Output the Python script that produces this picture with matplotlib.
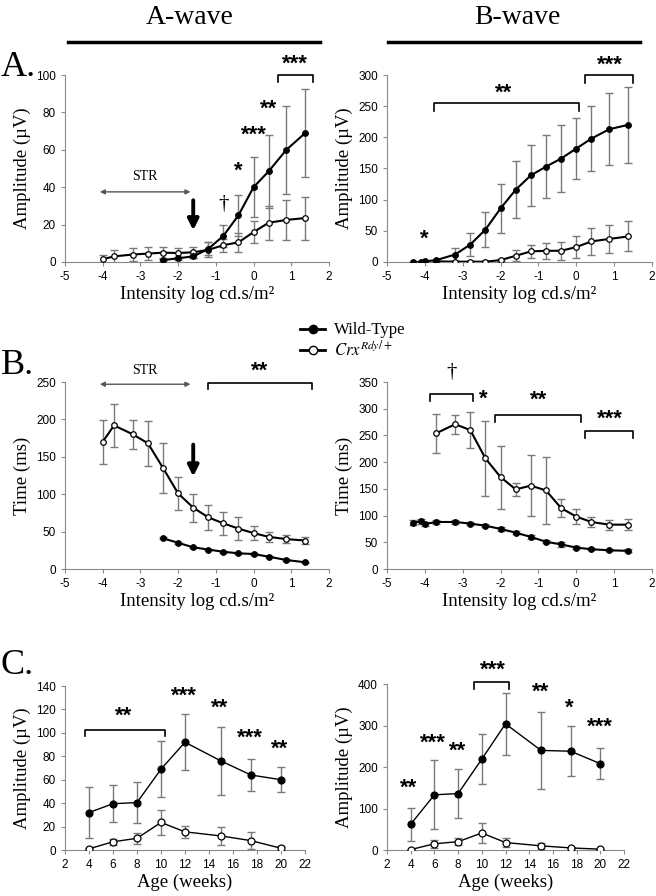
import numpy as np
import matplotlib.pyplot as plt
from matplotlib.lines import Line2D

plt.rcParams['font.family'] = ['Liberation Sans', 'DejaVu Sans']
plt.rcParams['axes.unicode_minus'] = False
plt.rcParams['mathtext.fontset'] = 'stix'

SERIF = ['Liberation Serif', 'DejaVu Serif']
W, H = 656, 896

# intensity steps (log cd.s/m2)
x_int = [-4, -3.7, -3.2, -2.8, -2.4, -2, -1.6, -1.2, -0.8, -0.4, 0, 0.4, 0.87, 1.37]
x_wt_b = [-4.3, -4.1, -4.0] + x_int[1:]

# A-wave amplitude
wt_aamp = [1, 2, 3, 7, 14, 25, 40, 48.5, 60, 69]
wt_aamp_err = [0.5, 0.8, 1, 3.5, 6, 11, 16, 19.5, 23.5, 23.5]
crx_aamp = [1.5, 3, 4, 4.5, 5, 4.8, 5.2, 6.5, 9, 10.5, 16, 21, 22.5, 23.5]
crx_aamp_err = [2.5, 3.5, 3.5, 3.5, 3, 2.5, 3, 4, 3.5, 5, 6, 9, 10.5, 11.5]

# B-wave amplitude
wt_bamp = [0, 0, 1, 3, 12, 28, 52, 86, 116, 139, 153, 166, 182, 198, 213, 220]
wt_bamp_err = [0, 0, 0, 1, 10, 19, 28, 39, 46, 49, 51, 53, 49, 52, 58, 61]
crx_bamp = [1, 0.5, 0.5, 0.5, 3, 10, 17, 18, 18, 24, 33, 37, 41]
crx_bamp_err = [1, 1, 1, 1, 2, 9, 11, 13, 14, 18, 21, 23, 24]

# A-wave implicit time
wt_atime = [41, 35, 29, 26, 23, 21, 20, 16.5, 12, 9]
wt_atime_err = [1.5, 1.5, 1, 1, 1, 1, 1, 1, 1, 1]
crx_atime = [170, 192, 180, 168, 135, 101, 82, 69, 61, 54, 48, 43, 40, 38]
crx_atime_err = [29.5, 28.5, 19, 30, 33, 22, 18.5, 17, 15.5, 15, 9.5, 7, 5.5, 5]

# B-wave implicit time
wt_btime = [87, 89, 84, 88, 88, 85, 81, 75, 68, 60, 51, 46, 40, 37, 35, 34]
wt_btime_err = [5, 5, 4, 3, 3, 3, 3, 3, 3, 3, 3, 4, 3, 2, 2, 3]
crx_btime = [254, 271, 260, 207, 172, 149, 156, 147, 114, 98, 88, 83, 83]
crx_btime_err = [36.5, 18, 33.5, 69.5, 59, 12, 57.5, 63, 17.5, 14.5, 9.5, 9.5, 10.5]

# amplitude vs age
ages = [4, 6, 8, 10, 12, 15, 17.5, 20]
wt_age_a = [32, 39.5, 40.5, 69, 92, 76, 64, 60]
wt_age_a_err = [22, 16, 17.5, 24, 24, 29, 14, 10.5]
crx_age_a = [1, 7, 10, 23.5, 15.5, 12, 8, 1.5]
crx_age_a_err = [1, 2.5, 4.5, 11, 5, 7.5, 7, 2]
wt_age_b = [62, 133, 136, 219, 304, 240, 238, 208]
wt_age_b_err = [40, 83, 58.5, 61, 75.5, 92, 60, 37.5]
crx_age_b = [1, 15, 20, 41, 18, 10, 5, 2]
crx_age_b_err = [1, 10, 8, 23, 10, 8, 3, 1]


def make_ax(px):
    l, t, r, b = px
    ax = fig.add_axes([l / W, 1 - b / H, (r - l) / W, (b - t) / H])
    for s in ['top', 'right']:
        ax.spines[s].set_visible(False)
    for s in ['left', 'bottom']:
        ax.spines[s].set_color('#8a8a8a')
    ax.tick_params(colors='#8a8a8a', labelcolor='black', labelsize=8.5, length=3)
    return ax


def series(ax, x, y, err, filled, lw=1.5, ms=4):
    ax.errorbar(x, y, yerr=err, fmt='none', ecolor='#7a7a7a', elinewidth=1,
                capsize=3, capthick=1, zorder=2)
    ax.plot(x, y, '-o', color='black', lw=lw, ms=ms, mec='black', mew=0.9,
            mfc='black' if filled else 'white', zorder=3)


def bracket(ax, x0, x1, y, h):
    ax.plot([x0, x0, x1, x1], [y - h, y, y, y - h], color='black', lw=1.2,
            clip_on=False)


def stars(ax, x, y, s, size=16):
    ax.text(x, y, s, ha='center', va='center', fontsize=size,
            fontweight='bold', clip_on=False)


def str_arrow(ax, x0, x1, y, ytxt):
    ax.annotate('', xy=(x0, y), xytext=(x1, y),
                arrowprops=dict(arrowstyle='<|-|>', color='#555555', lw=1,
                                mutation_scale=7))
    ax.text((x0 + x1) / 2, ytxt, 'STR', ha='center', va='center',
            fontsize=10, family=SERIF)


def down_arrow(ax, x, y0, y1):
    ax.annotate('', xy=(x, y1), xytext=(x, y0),
                arrowprops=dict(arrowstyle='-|>', color='black', lw=2.8,
                                mutation_scale=16))


def intensity_axes(ax, ymax, ystep, ylabel):
    ax.set_xlim(-5, 2)
    ax.set_xticks(range(-5, 3))
    ax.set_ylim(0, ymax)
    ax.set_yticks(np.arange(0, ymax + 1, ystep))
    ax.set_xlabel('Intensity log cd.s/m²', family=SERIF, fontsize=13.5,
                  labelpad=2)
    ax.set_ylabel(ylabel, family=SERIF, fontsize=13.5, labelpad=4)


def age_axes(ax, ymax, ystep):
    ax.set_xlim(2, 22)
    ax.set_xticks(range(2, 23, 2))
    ax.set_ylim(0, ymax)
    ax.set_yticks(np.arange(0, ymax + 1, ystep))
    ax.set_xlabel('Age (weeks)', family=SERIF, fontsize=13.5, labelpad=2)
    ax.set_ylabel('Amplitude (µV)', family=SERIF, fontsize=13.5, labelpad=4)


fig = plt.figure(figsize=(W / 100, H / 100), dpi=100)

# titles
for cx, x0, x1, txt in [(190, 68, 320, 'A-wave'), (517, 388, 640, 'B-wave')]:
    fig.text(cx / W, 1 - 17 / H, txt, ha='center', va='center',
             fontsize=20, family=SERIF)
    fig.add_artist(Line2D([x0 / W, x1 / W], [1 - 42 / H] * 2, color='black',
                          lw=2.5))
for y, lab in [(68, 'A.'), (366, 'B.'), (666, 'C.')]:
    fig.text(1 / W, 1 - y / H, lab, ha='left', va='center', fontsize=26,
             family=SERIF)

# A-wave amplitude
ax = make_ax((65, 75, 329, 262))
series(ax, x_int, crx_aamp, crx_aamp_err, False)
series(ax, x_int[4:], wt_aamp, wt_aamp_err, True)
intensity_axes(ax, 100, 20, 'Amplitude (µV)')
str_arrow(ax, -4.15, -1.6, 37.5, 45.5)
down_arrow(ax, -1.6, 34.5, 15.5)
ax.text(-0.8, 30.5, '†', ha='center', va='center', fontsize=15, family=SERIF)
stars(ax, -0.4, 48.5, '*')
stars(ax, 0, 68, '***')
stars(ax, 0.4, 81.5, '**')
bracket(ax, 0.66, 1.57, 100, 4)
stars(ax, 1.1, 106, '***')

# B-wave amplitude
ax = make_ax((387, 75, 652, 262))
series(ax, x_int[1:], crx_bamp, crx_bamp_err, False)
series(ax, x_wt_b, wt_bamp, wt_bamp_err, True)
intensity_axes(ax, 300, 50, 'Amplitude (µV)')
stars(ax, -4.02, 37, '*')
bracket(ax, -3.76, 0.08, 255, 13)
stars(ax, -1.93, 271, '**')
bracket(ax, 0.22, 1.5, 300, 13)
stars(ax, 0.88, 316, '***')

# A-wave implicit time
ax = make_ax((65, 382, 329, 569))
series(ax, x_int, crx_atime, crx_atime_err, False)
series(ax, x_int[4:], wt_atime, wt_atime_err, True)
intensity_axes(ax, 250, 50, 'Time (ms)')
str_arrow(ax, -4.15, -1.6, 247, 266)
down_arrow(ax, -1.6, 170, 120)
bracket(ax, -1.21, 1.55, 249, 9)
stars(ax, 0.17, 264, '**')

# B-wave implicit time
ax = make_ax((387, 382, 652, 569))
series(ax, x_int[1:], crx_btime, crx_btime_err, False)
series(ax, x_wt_b, wt_btime, wt_btime_err, True)
intensity_axes(ax, 350, 50, 'Time (ms)')
bracket(ax, -3.86, -2.72, 328, 14)
ax.text(-3.29, 368, '†', ha='center', va='center', fontsize=15, family=SERIF,
        clip_on=False)
stars(ax, -2.46, 318, '*')
bracket(ax, -2.15, 0.13, 289, 14)
stars(ax, -1.0, 315, '**')
bracket(ax, 0.22, 1.5, 258, 13)
stars(ax, 0.88, 281, '***')

# amplitude vs age, A-wave
ax = make_ax((65, 686, 305, 850))
series(ax, ages, crx_age_a, crx_age_a_err, False, lw=1, ms=5)
series(ax, ages, wt_age_a, wt_age_a_err, True, lw=1, ms=5)
age_axes(ax, 140, 20)
bracket(ax, 3.67, 10.3, 102.7, 5.5)
stars(ax, 6.9, 114.5, '**')
stars(ax, 11.9, 131, '***')
stars(ax, 14.9, 121, '**')
stars(ax, 17.4, 95, '***')
stars(ax, 19.9, 86, '**')

# amplitude vs age, B-wave
ax = make_ax((387, 684, 624, 850))
series(ax, ages, crx_age_b, crx_age_b_err, False, lw=1, ms=5)
series(ax, ages, wt_age_b, wt_age_b_err, True, lw=1, ms=5)
age_axes(ax, 400, 100)
stars(ax, 3.86, 148, '**')
stars(ax, 5.9, 258, '***')
stars(ax, 7.94, 237, '**')
bracket(ax, 9.38, 12.3, 405, 16)
stars(ax, 10.9, 434, '***')
stars(ax, 15.0, 379, '**')
stars(ax, 17.4, 341, '*')
stars(ax, 19.97, 297, '***')

# legend between the rows
handles = [Line2D([], [], color='black', lw=2, marker='o', ms=6, mfc=fc,
                  mec='black') for fc in ['black', 'white']]
fig.legend(handles, ['Wild-Type', r'$\mathit{Crx}^{\mathit{Rdy/+}}$'],
           loc='upper left', bbox_to_anchor=(292 / W, 1 - 314 / H),
           frameon=False, handlelength=1.5, handletextpad=0.5,
           labelspacing=0.1, borderpad=0, prop={'family': SERIF, 'size': 12})

fig.savefig('out.png', dpi=100)
